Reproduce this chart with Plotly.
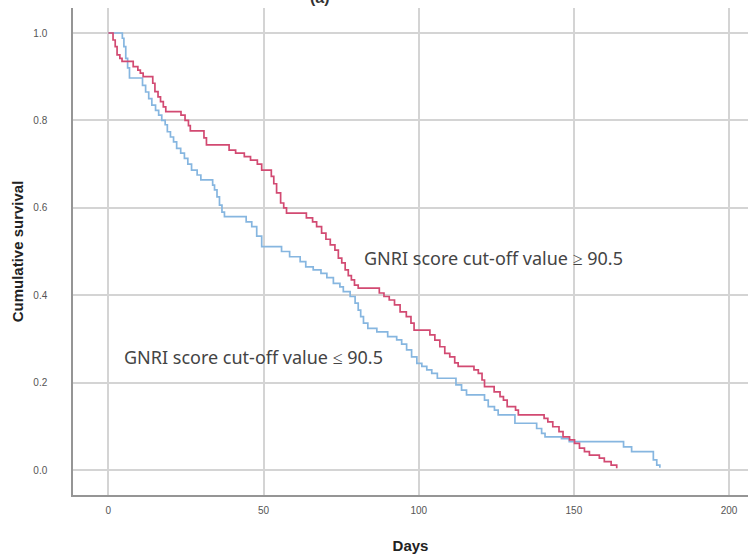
import plotly.graph_objects as go

# Kaplan-Meier step data
days_high = [0, 1.5, 2.2, 2.8, 3.7, 4.4, 8.0, 9.5, 10.3, 11.2, 14.3, 15.0, 16.0, 16.8, 17.7, 18.5,
             23.4, 24.7, 25.8, 26.4, 30.8, 31.6, 38.9, 41.0, 43.8, 45.8, 48.0, 49.4, 52.5, 53.3,
             54.2, 55.5, 56.5, 57.4, 63.8, 65.8, 67.1, 68.7, 70.1, 71.5, 73.0, 74.1, 75.2, 76.3,
             77.3, 78.3, 79.3, 80.5, 87.3, 88.8, 90.5, 92.2, 94.0, 96.0, 97.5, 98.5, 103.6, 105.2,
             106.8, 108.4, 110.0, 111.6, 112.7, 117.8, 119.2, 120.4, 121.2, 124.3, 126.2, 127.3,
             128.5, 131.2, 132.1, 140.4, 141.6, 143.2, 145.2, 146.5, 148.6, 150.2, 151.8, 153.4,
             155.0, 158.2, 159.8, 162.0, 163.8]
surv_high = [1.0, 0.984, 0.969, 0.950, 0.942, 0.935, 0.923, 0.915, 0.908, 0.900, 0.885, 0.866, 0.854,
             0.843, 0.831, 0.820, 0.812, 0.800, 0.788, 0.776, 0.760, 0.744, 0.732, 0.725, 0.717, 0.709,
             0.700, 0.686, 0.672, 0.655, 0.634, 0.611, 0.600, 0.588, 0.577, 0.568, 0.557, 0.542, 0.528,
             0.515, 0.503, 0.485, 0.474, 0.458, 0.445, 0.435, 0.423, 0.416, 0.405, 0.397, 0.389, 0.378,
             0.362, 0.351, 0.336, 0.320, 0.309, 0.297, 0.282, 0.267, 0.259, 0.245, 0.237, 0.229, 0.221,
             0.206, 0.191, 0.179, 0.168, 0.160, 0.145, 0.137, 0.126, 0.118, 0.110, 0.099, 0.088, 0.076,
             0.069, 0.061, 0.050, 0.042, 0.034, 0.027, 0.019, 0.011, 0.004]

days_low = [0, 4.5, 5.0, 5.6, 6.2, 6.8, 11.0, 12.0, 13.0, 14.0, 15.2, 16.2, 17.2, 18.3, 19.0, 20.0,
            21.0, 22.0, 23.3, 24.5, 25.6, 26.8, 28.6, 29.8, 33.6, 34.2, 35.0, 35.8, 36.6, 37.4, 44.4,
            46.2, 47.8, 49.4, 55.8, 58.4, 61.8, 63.6, 66.0, 68.5, 70.4, 72.5, 74.6, 75.7, 77.9, 79.5,
            80.5, 81.3, 82.2, 83.6, 86.5, 90.0, 92.9, 94.5, 96.1, 97.7, 99.4, 101.0, 102.6, 104.2,
            106.0, 112.0, 113.8, 115.4, 121.2, 122.4, 124.4, 125.6, 131.0, 138.0, 139.6, 140.7,
            146.0, 148.5, 166.0, 168.6, 175.6, 176.7, 177.7]
surv_low = [1.0, 0.988, 0.969, 0.942, 0.920, 0.897, 0.880, 0.865, 0.850, 0.835, 0.823, 0.812, 0.800,
            0.790, 0.774, 0.762, 0.751, 0.736, 0.725, 0.713, 0.700, 0.686, 0.675, 0.664, 0.652, 0.641,
            0.625, 0.606, 0.590, 0.580, 0.568, 0.557, 0.535, 0.511, 0.500, 0.488, 0.477, 0.465, 0.458,
            0.450, 0.440, 0.427, 0.419, 0.408, 0.397, 0.382, 0.366, 0.351, 0.336, 0.324, 0.316, 0.305,
            0.298, 0.288, 0.275, 0.259, 0.244, 0.237, 0.229, 0.221, 0.210, 0.195, 0.183, 0.172, 0.160,
            0.145, 0.137, 0.126, 0.107, 0.095, 0.084, 0.076, 0.072, 0.065, 0.053, 0.042, 0.023, 0.011,
            0.005]

x_ticks = [0, 50, 100, 150, 200]
y_ticks = [0.0, 0.2, 0.4, 0.6, 0.8, 1.0]

label_high = "GNRI score cut-off value \u2265 90.5"
label_low = "GNRI score cut-off value \u2264 90.5"

fig = go.Figure()
fig.add_trace(go.Scatter(x=days_low, y=surv_low, mode="lines", line_shape="hv",
                         line=dict(color="#86b6e0", width=1.7), name=label_low))
fig.add_trace(go.Scatter(x=days_high, y=surv_high, mode="lines", line_shape="hv",
                         line=dict(color="#d24a72", width=1.7), name=label_high))

fig.add_annotation(x=81.6, y=0.485, xref="x", yref="y", text=label_high, showarrow=False,
                   xanchor="left", yanchor="middle",
                   font=dict(family="Noto Sans", size=18, color="#444444"))
fig.add_annotation(x=4.3, y=0.259, xref="x", yref="y", text=label_low, showarrow=False,
                   xanchor="left", yanchor="middle",
                   font=dict(family="Noto Sans", size=18, color="#444444"))
fig.add_annotation(x=0.366, y=1.0, xref="paper", yref="paper", text="<b>(a)</b>", showarrow=False,
                   xanchor="center", yanchor="bottom",
                   font=dict(family="Liberation Sans", size=16, color="#333333"))

fig.update_layout(
    width=748, height=560,
    margin=dict(l=73, r=0, t=8, b=65, autoexpand=False),
    plot_bgcolor="white", paper_bgcolor="white",
    showlegend=False,
    font=dict(family="Liberation Sans", color="#333333"),
)
fig.update_xaxes(range=[-11.4, 206.1], tickvals=x_ticks, ticktext=[str(v) for v in x_ticks],
                 showgrid=True, gridcolor="#d4d4d4", gridwidth=1.5, zeroline=False,
                 showline=True, linecolor="#959595", linewidth=1.5, ticks="", automargin=False,
                 tickfont=dict(size=10, color="#555555"), ticklabelstandoff=5,
                 title=dict(text="<b>Days</b>", font=dict(size=15, color="#222222"), standoff=26))
fig.update_yaxes(range=[-0.0572, 1.0572], tickvals=y_ticks, ticktext=[f"{v:.1f}" for v in y_ticks],
                 showgrid=True, gridcolor="#d4d4d4", gridwidth=1.5, zeroline=False,
                 showline=True, linecolor="#959595", linewidth=1.5, ticks="", automargin=False,
                 tickfont=dict(size=10, color="#555555"), ticklabelstandoff=22,
                 title=dict(text="<b>Cumulative survival</b>", font=dict(size=15, color="#222222"),
                            standoff=6))

fig.write_html("out.html", config={"displayModeBar": False},
               post_script="document.body.style.margin='0';")
